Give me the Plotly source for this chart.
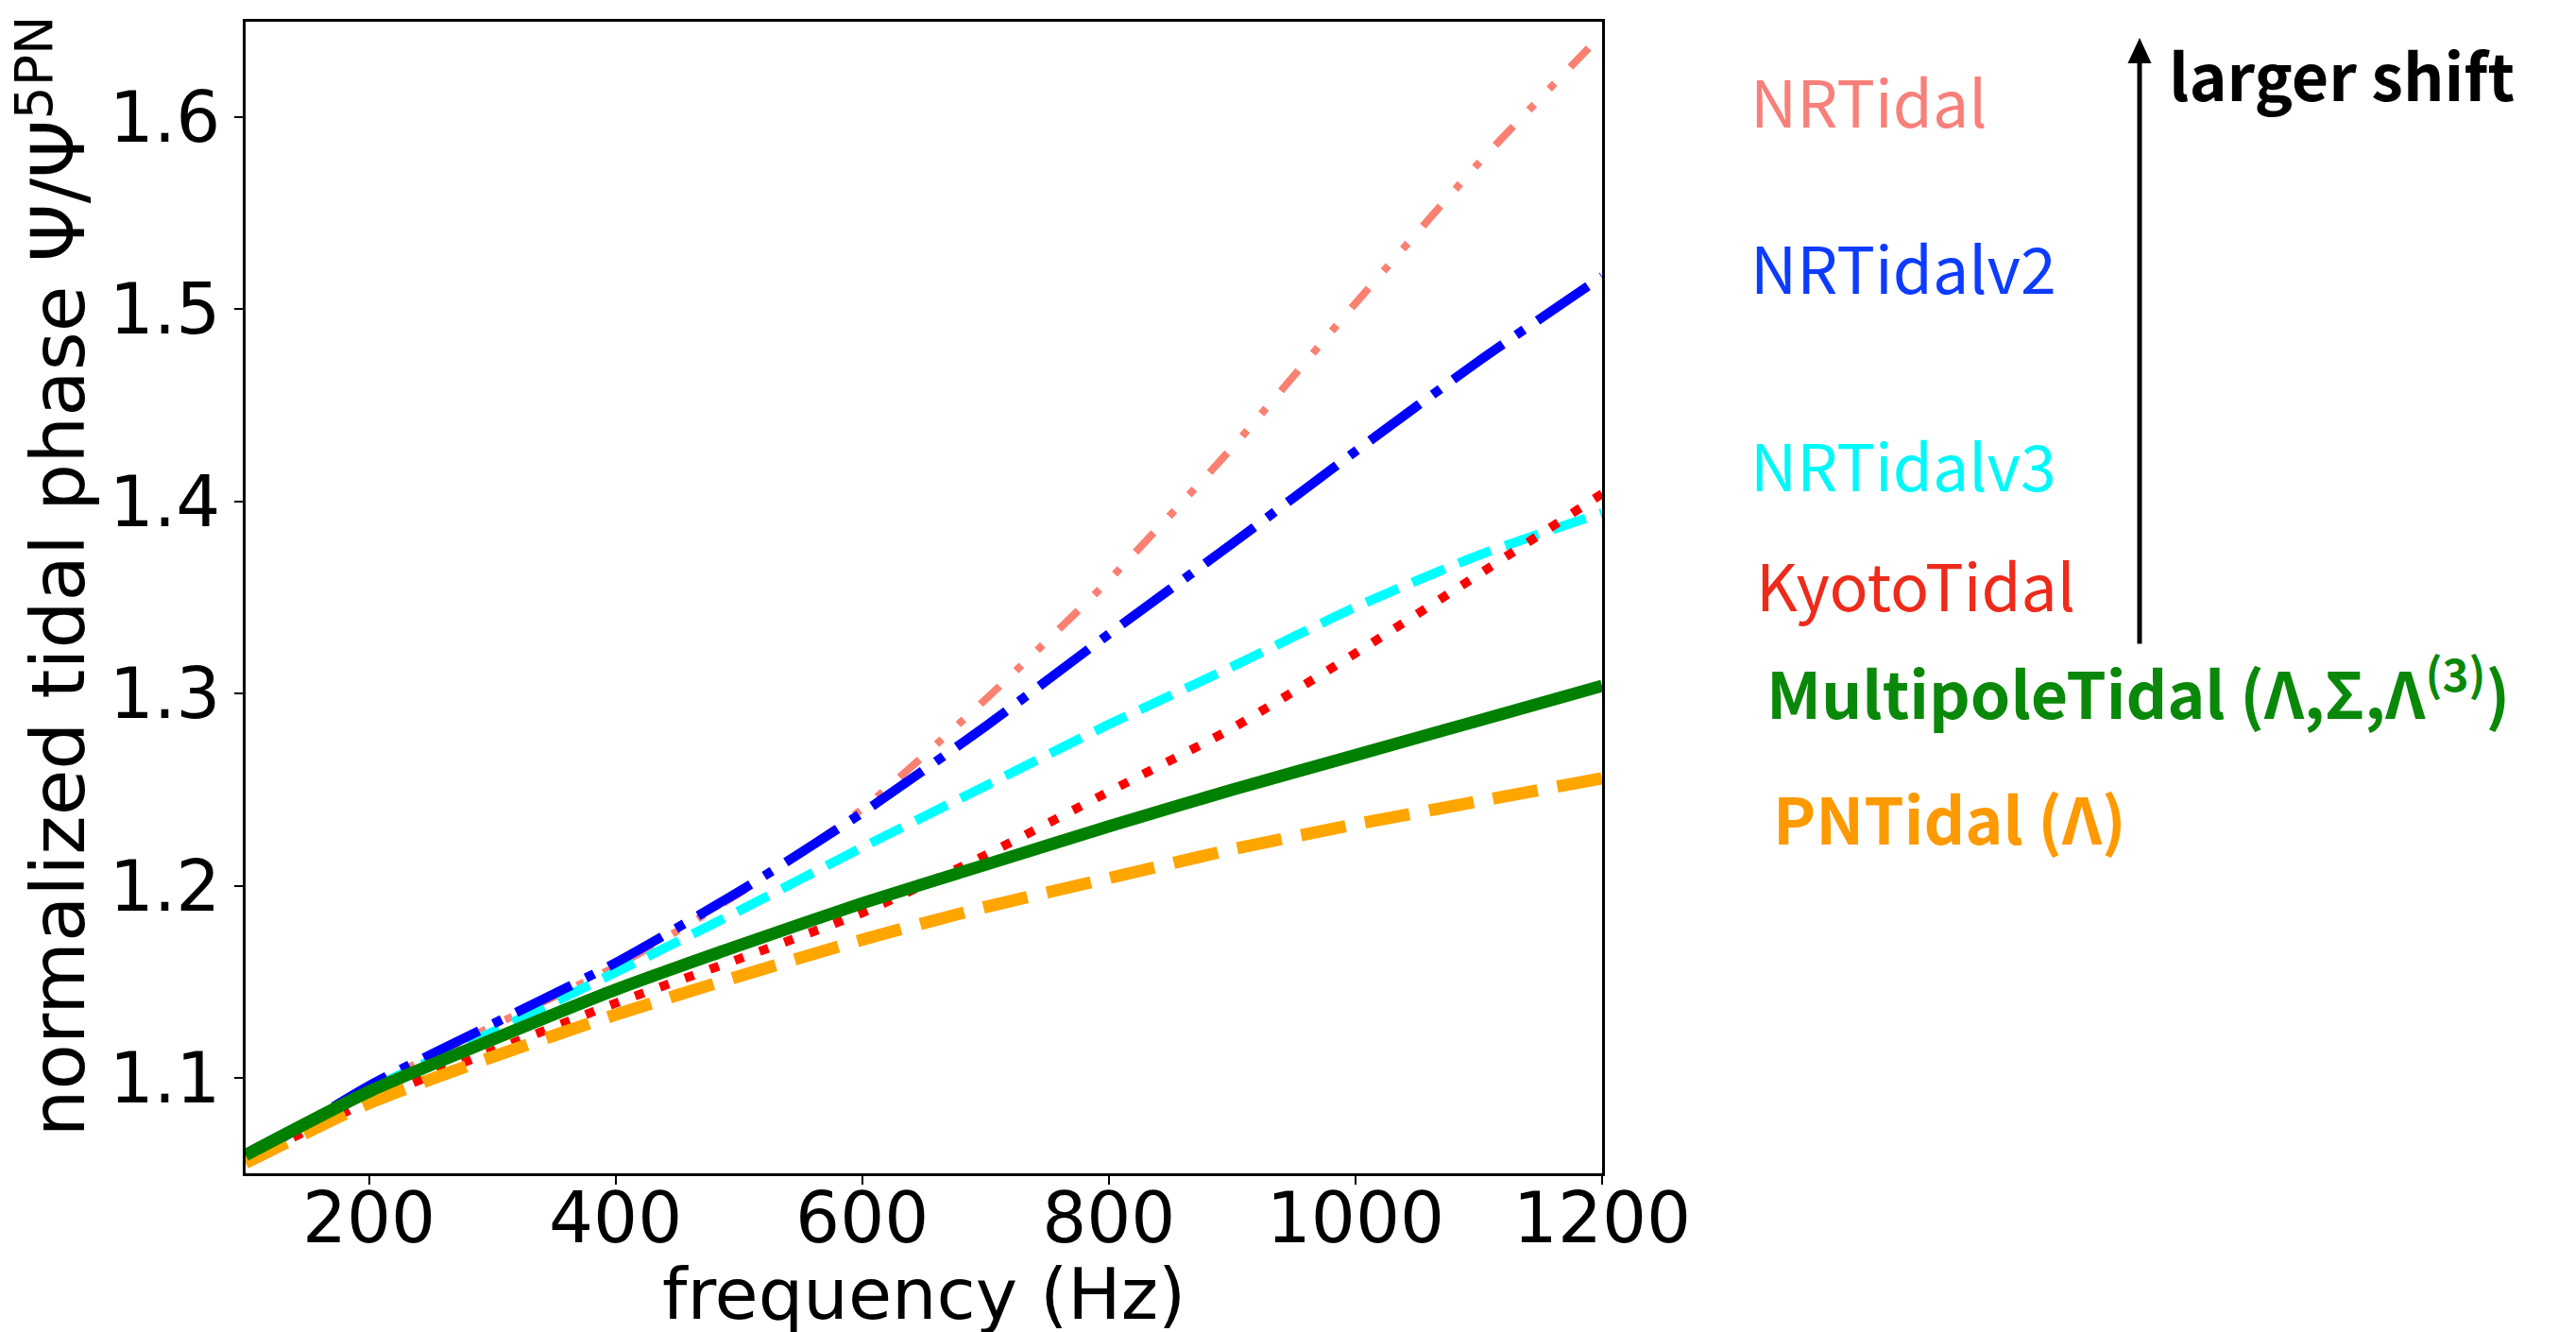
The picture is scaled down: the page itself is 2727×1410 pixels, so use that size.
import plotly.graph_objects as go

# ---------------- data ----------------
freq = [100, 200, 300, 400, 500, 600, 700, 800, 900, 1000, 1100, 1200]

nrtidal     = [1.057, 1.095, 1.127, 1.158, 1.196, 1.240, 1.297, 1.359, 1.428, 1.503, 1.576, 1.643]
nrtidal_v2  = [1.057, 1.096, 1.128, 1.160, 1.197, 1.238, 1.283, 1.331, 1.378, 1.426, 1.473, 1.517]
nrtidal_v3  = [1.058, 1.094, 1.124, 1.155, 1.187, 1.220, 1.252, 1.284, 1.314, 1.345, 1.372, 1.394]
kyoto       = [1.057, 1.088, 1.114, 1.139, 1.162, 1.186, 1.216, 1.249, 1.282, 1.321, 1.362, 1.404]
pn_tidal    = [1.056, 1.087, 1.111, 1.133, 1.153, 1.172, 1.189, 1.204, 1.219, 1.232, 1.244, 1.256]
multipole   = [1.060, 1.093, 1.120, 1.146, 1.169, 1.191, 1.211, 1.231, 1.250, 1.268, 1.286, 1.304]

x_ticks = [200, 400, 600, 800, 1000, 1200]
y_ticks = [1.1, 1.2, 1.3, 1.4, 1.5, 1.6]

labels = ["NRTidal", "NRTidalv2", "NRTidalv3", "KyotoTidal",
          "MultipoleTidal (Λ,Σ,Λ<sup>(3)</sup>)", "PNTidal (Λ)"]

# ---------------- figure ----------------
W, H = 2727, 1410
L, R, T, B = 252, 1688, 12, 1234  # plot area in pixels

fig = go.Figure()

series = [
    (nrtidal,    "#FA8072", 8,   "28px,24px,8px,23px,8px,24px"),
    (nrtidal_v3, "#00FFFF", 10,  "37px,16px"),
    (nrtidal_v2, "#0000FF", 10,  "65px,17px,10px,17px"),
    (kyoto,      "#FF0000", 9.5, "10px,18px"),
    (pn_tidal,   "#FFA500", 13,  "48px,21px"),
    (multipole,  "#008000", 13,  "solid"),
]
for ys, col, w, dash in series:
    fig.add_trace(go.Scatter(x=freq, y=ys, mode="lines",
                             line=dict(color=col, width=w, dash=dash, shape="spline", smoothing=0.6),
                             showlegend=False, hoverinfo="skip"))

tick_font = dict(family="DejaVu Sans", size=74, color="black")

fig.update_xaxes(range=[100, 1200], tickvals=x_ticks, ticktext=[str(v) for v in x_ticks],
                 showgrid=False, zeroline=False, showline=True, mirror=True,
                 linecolor="black", linewidth=2.5, ticks="outside", ticklen=9,
                 tickwidth=2, tickcolor="black", tickfont=tick_font,
                 ticklabelstandoff=-28)
fig.update_yaxes(range=[1.0505, 1.6495], tickvals=y_ticks, ticktext=[f"{v:.1f}" for v in y_ticks],
                 showgrid=False, zeroline=False, showline=True, mirror=True,
                 linecolor="black", linewidth=2.5, ticks="outside", ticklen=9,
                 tickwidth=2, tickcolor="black", tickfont=tick_font)

def px_x(px):
    return (px - L) / (R - L)

def px_y(py):
    return (B - py) / (B - T)

# axis titles
fig.add_annotation(x=px_x((L + R) / 2), y=px_y(1362), xref="paper", yref="paper",
                   xanchor="center", yanchor="middle", showarrow=False,
                   text="frequency (Hz)",
                   font=dict(family="DejaVu Sans", size=75, color="black"))
fig.add_annotation(x=px_x(48), y=px_y(601), xref="paper", yref="paper",
                   xanchor="center", yanchor="middle", showarrow=False, textangle=-90,
                   text="normalized tidal phase Ψ/Ψ<sup>5PN</sup>",
                   font=dict(family="DejaVu Sans", size=79, color="black"))

lab_font = "Noto Sans CJK JP"
ann = [
    (labels[0], 1856, 105, "#F8807A", False),
    (labels[1], 1856, 281, "#0D3BFF", False),
    (labels[2], 1856, 491, "#00F8F8", False),
    (labels[3], 1862, 618, "#EE2A1A", False),
    (labels[4], 1873, 730, "#0A880A", True),
    (labels[5], 1880, 866, "#FF9900", True),
    ("larger shift", 2299, 77, "#000000", True),
]
for text, x0, yc, col, bold in ann:
    t = f"<b>{text}</b>" if bold else text
    fig.add_annotation(x=px_x(x0 - 13), y=px_y(yc - 10), xref="paper", yref="paper",
                       xanchor="left", yanchor="middle", showarrow=False, text=t,
                       font=dict(family=lab_font, size=68, color=col))

# arrow ("larger shift")
ax_px = 2257
fig.add_shape(type="line", xref="paper", yref="paper",
              x0=px_x(ax_px), x1=px_x(ax_px), y0=px_y(672), y1=px_y(50),
              line=dict(color="black", width=5))
fig.add_shape(type="path", xref="paper", yref="paper",
              path=f"M {px_x(ax_px)} {px_y(29)} L {px_x(ax_px - 12.5)} {px_y(56)} "
                   f"L {px_x(ax_px + 12.5)} {px_y(56)} Z",
              fillcolor="black", line=dict(color="black", width=0))

fig.update_layout(width=W, height=H, autosize=False,
                  margin=dict(l=L, r=W - R, t=T, b=H - B, pad=0),
                  plot_bgcolor="white", paper_bgcolor="white")

fig.write_html("out.html")
